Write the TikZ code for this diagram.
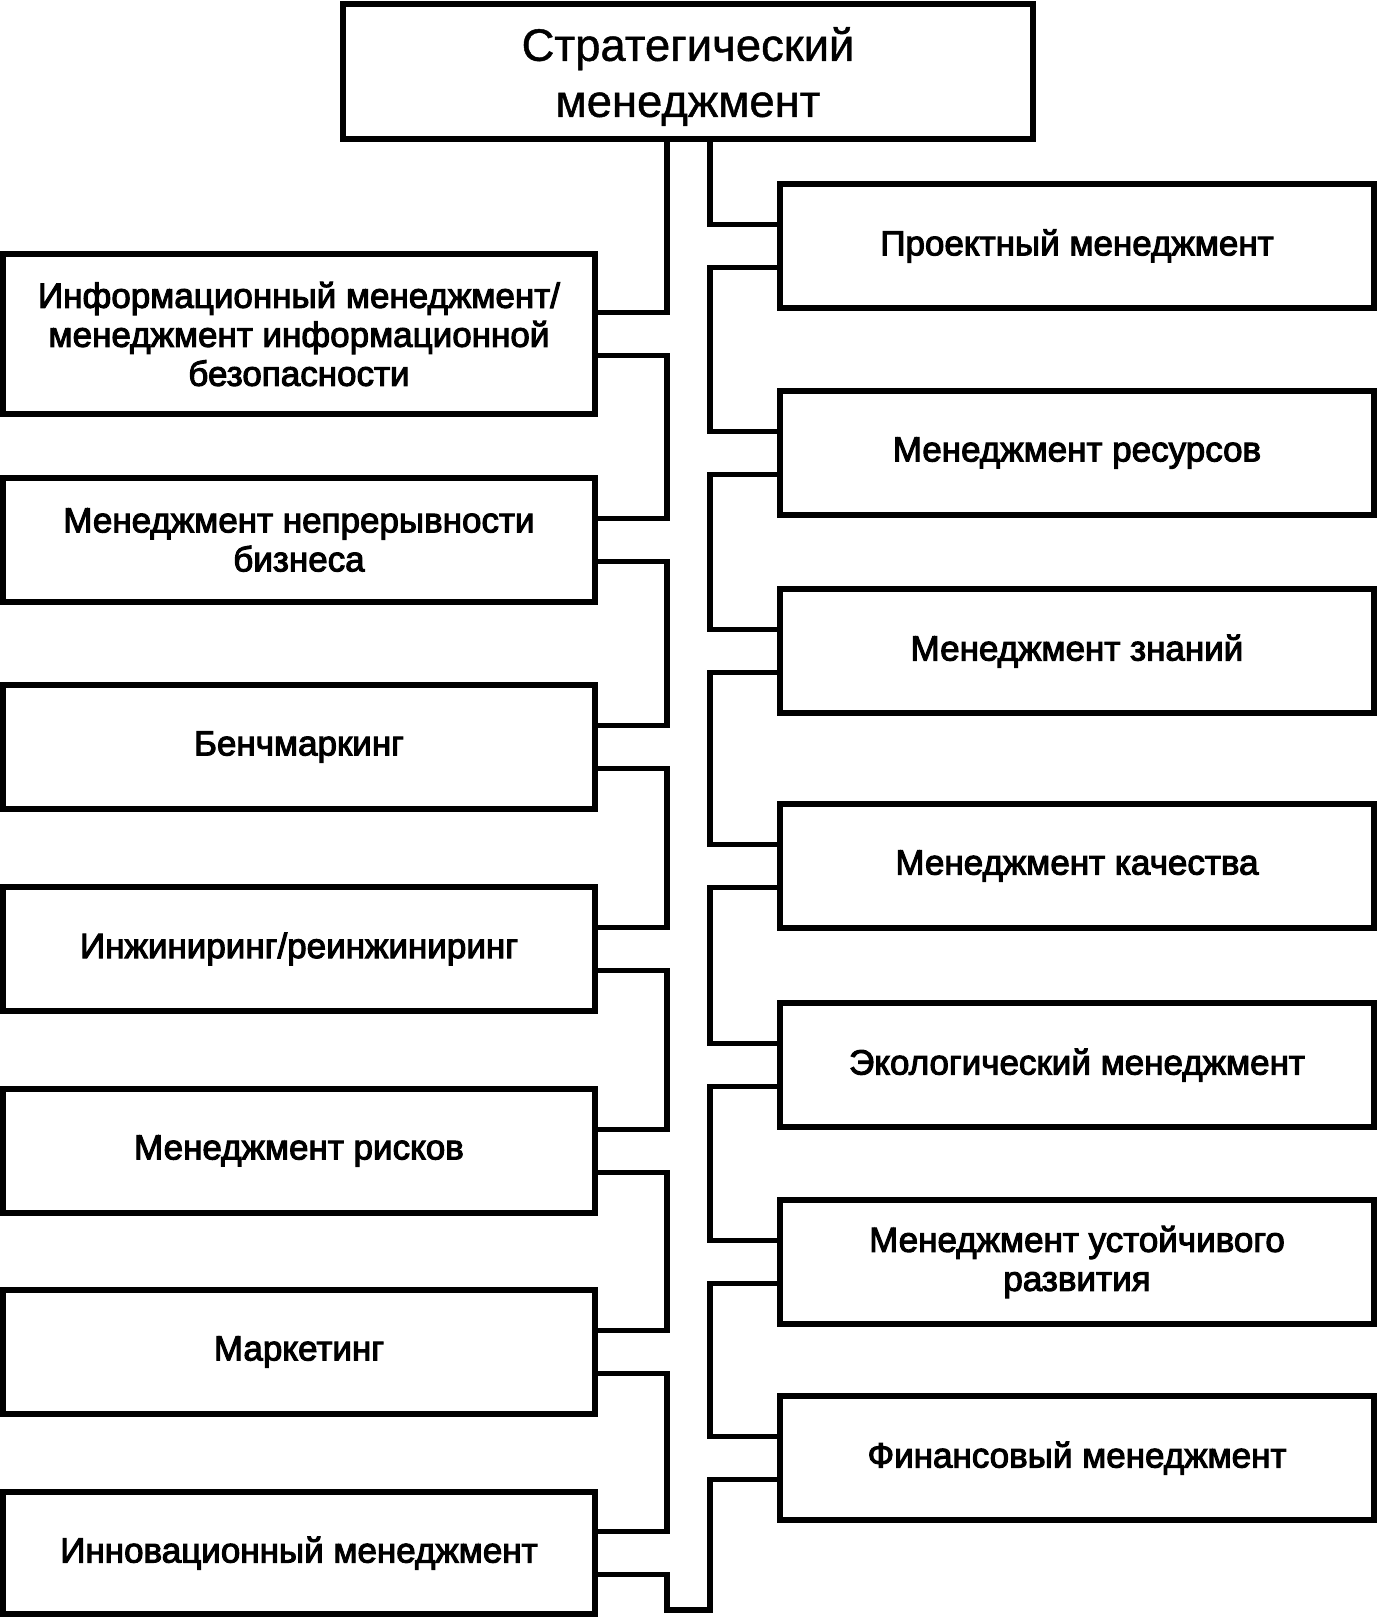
\documentclass[tikz,border=0pt]{standalone}
\usepackage{fontspec}
\setmainfont{Liberation Sans}
\newfontfamily\boxfont{Liberation Sans}[FakeBold=3]
\newfontfamily\headfont{Liberation Sans}[FakeBold=1]
\usetikzlibrary{backgrounds}

\tikzset{
  box/.style={draw=black, line width=2.75pt, fill=white, align=center,
              inner sep=0pt, minimum height=62pt,
              font=\boxfont\fontsize{17.5}{19.5}\selectfont},
  leftbox/.style={box, minimum width=296pt},
  rightbox/.style={box, minimum width=297pt},
  pipeout/.style={line width=24.25pt, black},
  pipein/.style={line width=18.75pt, white},
}

\begin{document}
\begin{tikzpicture}[x=0.5pt,y=-0.5pt]
        \useasboundingbox (0,0) rectangle (1377,1618);

        \node[box, minimum width=345pt, minimum height=67.5pt] (top) at (688,71.5) {};
        \node[font=\headfont\fontsize{22.7}{28}\selectfont, align=center, yshift=-2.5pt]
              (toptext) at (top.center) {Стратегический\\менеджмент};

        % right column
        \node[rightbox] (proj) at (1077,246)  {Проектный менеджмент};
        \node[rightbox] (res)  at (1077,453)  {Менеджмент ресурсов};
        \node[rightbox] (know) at (1077,651)  {Менеджмент знаний};
        \node[rightbox] (qual) at (1077,866)  {Менеджмент качества};
        \node[rightbox] (eco)  at (1077,1065) {Экологический менеджмент};
        \node[rightbox] (sust) at (1077,1262) {Менеджмент устойчивого\\развития};
        \node[rightbox] (fin)  at (1077,1458) {Финансовый менеджмент};

        % left column
        \node[leftbox, minimum height=80pt] (info) at (299,334)
              {Информационный менеджмент/\\менеджмент информационной\\безопасности};
        \node[leftbox] (cont)  at (299,540)  {Менеджмент непрерывности\\бизнеса};
        \node[leftbox] (bench) at (299,747)  {Бенчмаркинг};
        \node[leftbox] (eng)   at (299,949)  {Инжиниринг/реинжиниринг};
        \node[leftbox] (risk)  at (299,1151) {Менеджмент рисков};
        \node[leftbox] (mark)  at (299,1352) {Маркетинг};
        \node[leftbox, minimum height=61pt] (innov) at (299,1553) {Инновационный менеджмент};

        \coordinate (bar) at (688.5,139);
        \coordinate (bend) at (688.5,1588.5);

        \begin{scope}[on background layer]
          % outline first, then the white inside
          \draw[pipeout, line cap=rect] (bar) -- (bend);
          \foreach \b/\s in {proj/west,res/west,know/west,qual/west,eco/west,sust/west,fin/west,
                             info/east,cont/east,bench/east,eng/east,risk/east,mark/east,innov/east}
            \draw[pipeout] (bar |- \b.\s) -- (\b.\s);
          \draw[pipein, line cap=rect] (bar) -- (bend);
          \foreach \b/\s in {proj/west,res/west,know/west,qual/west,eco/west,sust/west,fin/west,
                             info/east,cont/east,bench/east,eng/east,risk/east,mark/east,innov/east}
            \draw[pipein] (bar |- \b.\s) -- (\b.\s);
        \end{scope}

\end{tikzpicture}
\end{document}
